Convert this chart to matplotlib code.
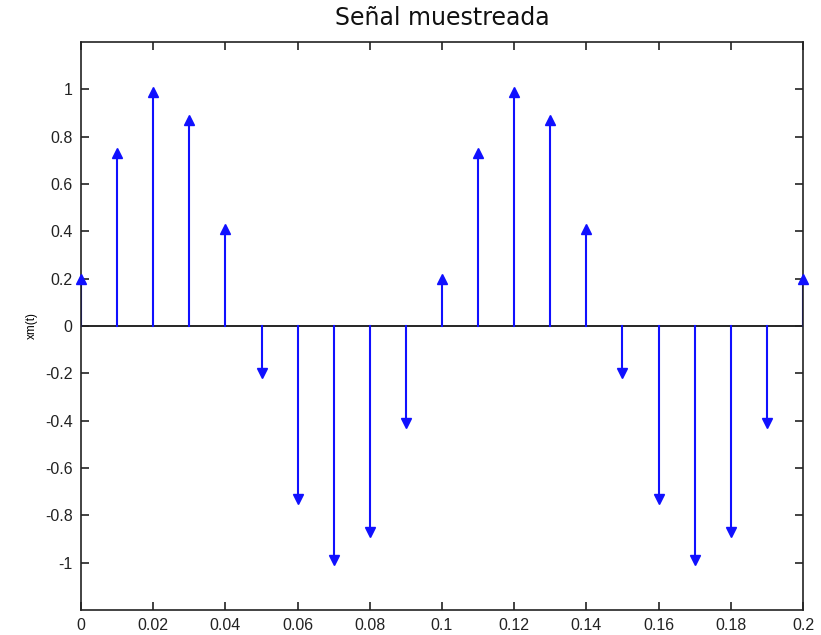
import matplotlib.pyplot as plt

# sample instants (s) and sampled values
t = [0.00, 0.01, 0.02, 0.03, 0.04, 0.05, 0.06, 0.07, 0.08, 0.09, 0.10,
     0.11, 0.12, 0.13, 0.14, 0.15, 0.16, 0.17, 0.18, 0.19, 0.20]
xm = [0.20, 0.73, 0.99, 0.87, 0.41, -0.20, -0.73, -0.99, -0.87, -0.41, 0.20,
      0.73, 0.99, 0.87, 0.41, -0.20, -0.73, -0.99, -0.87, -0.41, 0.20]

xticks = [0, 0.02, 0.04, 0.06, 0.08, 0.1, 0.12, 0.14, 0.16, 0.18, 0.2]
xticklabels = ['0', '0.02', '0.04', '0.06', '0.08', '0.1', '0.12', '0.14', '0.16', '0.18', '0.2']
yticks = [-1, -0.8, -0.6, -0.4, -0.2, 0, 0.2, 0.4, 0.6, 0.8, 1]
yticklabels = ['-1', '-0.8', '-0.6', '-0.4', '-0.2', '0', '0.2', '0.4', '0.6', '0.8', '1']

fig = plt.figure(figsize=(8.21, 6.35), dpi=100)
ax = fig.add_axes([0.0987, 0.0394, 0.8793, 0.8946])

ax.axhline(0, color='black', lw=1.2, zorder=1)
for ti, v in zip(t, xm):
    ax.plot([ti, ti], [0, v], color='#1010ff', lw=1.5, zorder=2)
    ax.plot(ti, v, marker='^' if v > 0 else 'v', color='#1010ff',
            markersize=7.5, zorder=3, clip_on=False)

ax.set_xlim(0, 0.2)
ax.set_ylim(-1.2, 1.2)
ax.set_xticks(xticks)
ax.set_xticklabels(xticklabels)
ax.set_yticks(yticks)
ax.set_yticklabels(yticklabels)
ax.tick_params(direction='in', top=True, right=True, length=6, width=1.2,
               labelsize=11.5, pad=6, colors='#222222')
for lab in ax.get_xticklabels() + ax.get_yticklabels():
    lab.set_family('Liberation Sans')
for s in ax.spines.values():
    s.set_linewidth(1.2)
    s.set_color('#222222')

ax.set_ylabel('xm(t)', fontsize=8.5, family='Liberation Sans', labelpad=5)
ax.set_title('Señal muestreada', fontsize=17, pad=12, color='#111111')

plt.savefig('out.png', dpi=100)
